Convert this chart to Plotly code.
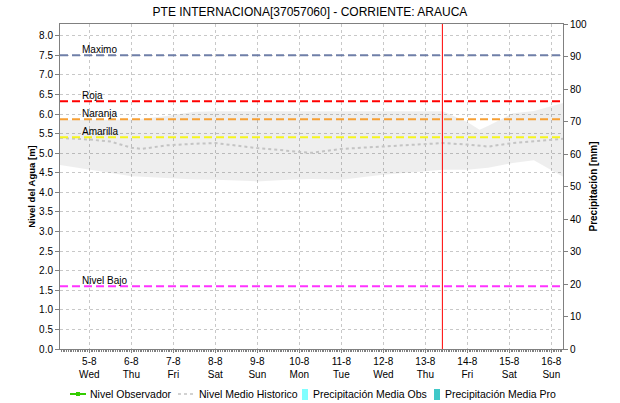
import plotly.graph_objects as go

# ---------------- data ----------------
hist_dates = ["2020-08-04 07:15", "2020-08-05 00:00", "2020-08-05 12:00", "2020-08-06 00:00",
              "2020-08-06 06:00", "2020-08-06 20:00", "2020-08-07 12:00", "2020-08-08 00:00",
              "2020-08-09 00:00", "2020-08-09 18:00", "2020-08-10 07:00", "2020-08-11 00:00",
              "2020-08-12 00:00", "2020-08-13 05:00", "2020-08-13 10:00", "2020-08-14 00:00",
              "2020-08-14 07:00", "2020-08-14 12:00", "2020-08-15 02:00", "2020-08-15 14:00",
              "2020-08-16 06:40"]
hist_mean = [5.39, 5.35, 5.30, 5.14, 5.11, 5.20, 5.24, 5.26, 5.13, 5.05, 5.01, 5.11,
             5.17, 5.26, 5.26, 5.22, 5.18, 5.17, 5.26, 5.30, 5.37]
hist_min = [4.70, 4.58, 4.50, 4.41, 4.40, 4.36, 4.33, 4.32, 4.28, 4.32, 4.34, 4.32,
            4.45, 4.56, 4.58, 4.58, 4.60, 4.63, 4.75, 4.82, 4.40]
hist_max = [5.85, 5.85, 5.85, 5.86, 5.88, 5.95, 6.06, 6.07, 6.07, 6.07, 6.07, 6.07,
            6.07, 6.07, 6.07, 5.80, 5.60, 5.70, 6.02, 6.08, 6.28]

# observed series carry no values in the reference (legend entries only)
obs_dates = ["2020-08-13 09:45"]
obs_level = [None]
precip_obs = [None]
precip_pro = [None]

level_names = ["Maximo", "Roja", "Naranja", "Amarilla", "Nivel Bajo"]
level_values = [7.5, 6.33, 5.87, 5.41, 1.6]
level_colors = ["#6f7fa8", "#ff0000", "#f7a035", "#f5f51e", "#ff33ff"]

now_marker = "2020-08-13 09:45"

tick_dates = ["2020-08-%02d" % d for d in range(5, 17)]
tick_text = ["5-8<br>Wed", "6-8<br>Thu", "7-8<br>Fri", "8-8<br>Sat", "9-8<br>Sun",
             "10-8<br>Mon", "11-8<br>Tue", "12-8<br>Wed", "13-8<br>Thu", "14-8<br>Fri",
             "15-8<br>Sat", "16-8<br>Sun"]

x_range = ["2020-08-04 07:15", "2020-08-16 06:40"]

legend_names = ["Nivel Observador", "Nivel Medio Historico",
                "Precipitación Media Obs", "Precipitación Media Pro"]
c_obs, c_mean, c_pobs, c_ppro = "#33cc00", "#c4c4c4", "#80ffff", "#40c8c8"

# ---------------- figure ----------------
W, H = 620, 403
ML, MR, MT, MB = 60, 57, 24, 54
PW, PH = W - ML - MR, H - MT - MB


def px(x):  # pixel -> paper x
    return (x - ML) / PW


def py(y):  # pixel -> paper y
    return (H - MB - y) / PH


fig = go.Figure()

fig.add_trace(go.Scatter(x=hist_dates, y=hist_min, mode="lines", line=dict(width=0),
                         showlegend=False, hoverinfo="skip"))
fig.add_trace(go.Scatter(x=hist_dates, y=hist_max, mode="lines", line=dict(width=0),
                         fill="tonexty", fillcolor="rgba(0,0,0,0.065)",
                         showlegend=False, hoverinfo="skip"))

fig.add_trace(go.Scatter(x=obs_dates, y=obs_level, mode="lines+markers", name=legend_names[0],
                         line=dict(color=c_obs, width=2), showlegend=False,
                         marker=dict(symbol="square", size=4, color=c_obs)))
fig.add_trace(go.Scatter(x=hist_dates, y=hist_mean, mode="lines", name=legend_names[1],
                         line=dict(color=c_mean, width=2, dash="dot"), showlegend=False))
fig.add_trace(go.Bar(x=obs_dates, y=precip_obs, name=legend_names[2], showlegend=False,
                     marker=dict(color=c_pobs), yaxis="y2"))
fig.add_trace(go.Bar(x=obs_dates, y=precip_pro, name=legend_names[3], showlegend=False,
                     marker=dict(color=c_ppro), yaxis="y2"))

for name, val, col in zip(level_names, level_values, level_colors):
    fig.add_shape(type="line", xref="paper", x0=0, x1=1, yref="y", y0=val, y1=val,
                  line=dict(color=col, width=2, dash="8px,4px"), layer="above")
    fig.add_annotation(xref="paper", x=0.04, yref="y", y=val, text=name, showarrow=False,
                       xanchor="left", yanchor="bottom", yshift=-2,
                       font=dict(size=10, color="#000000"))

fig.add_shape(type="line", xref="x", x0=now_marker, x1=now_marker, yref="paper", y0=0, y1=1,
              line=dict(color="#ff0000", width=1), layer="above")

# ---- legend row (drawn manually to match the compact layout) ----
ly = py(394)
fig.add_shape(type="line", xref="paper", yref="paper", x0=px(70), x1=px(86), y0=ly, y1=ly,
              line=dict(color=c_obs, width=2))
fig.add_shape(type="rect", xref="paper", yref="paper", x0=px(76), x1=px(80), y0=py(396),
              y1=py(392), line=dict(width=0), fillcolor=c_obs)
fig.add_shape(type="line", xref="paper", yref="paper", x0=px(178), x1=px(194), y0=ly, y1=ly,
              line=dict(color=c_mean, width=1.5, dash="3px,3px"))
fig.add_shape(type="rect", xref="paper", yref="paper", x0=px(302), x1=px(308), y0=py(400),
              y1=py(389), line=dict(width=0), fillcolor=c_pobs)
fig.add_shape(type="rect", xref="paper", yref="paper", x0=px(434), x1=px(440), y0=py(400),
              y1=py(389), line=dict(width=0), fillcolor=c_ppro)
for name, xs in zip(legend_names, [88, 197, 311, 443]):
    fig.add_annotation(xref="paper", yref="paper", x=px(xs), y=ly, text=name, showarrow=False,
                       xanchor="left", yanchor="middle", font=dict(size=10.5, color="#000000"))

axis_font = dict(family="Liberation Sans, Arial, sans-serif", size=10, color="#000000")

fig.update_layout(
    width=W, height=H,
    margin=dict(l=ML, r=MR, t=MT, b=MB, autoexpand=False),
    paper_bgcolor="#ffffff", plot_bgcolor="#ffffff",
    font=dict(family="Liberation Sans, Arial, sans-serif", size=10, color="#000000"),
    title=dict(text="PTE INTERNACIONA[37057060] - CORRIENTE: ARAUCA", x=0.5, xanchor="center",
               y=0.97, yanchor="middle", font=dict(size=12, color="#000000")),
    showlegend=False,
    barmode="overlay",
    xaxis=dict(type="date", range=x_range, tickmode="array", tickvals=tick_dates,
               ticktext=tick_text, showgrid=True, gridcolor="#c8c8c8", griddash="dot",
               gridwidth=1, showline=True, linecolor="#808080", mirror=True,
               ticks="outside", ticklen=3, tickcolor="#808080", tickfont=axis_font,
               zeroline=False, automargin=False,
               minor=dict(dtick=3600000, ticks="outside", ticklen=2, tickcolor="#808080",
                          showgrid=False)),
    yaxis=dict(range=[0, 8.3], tickmode="linear", tick0=0, dtick=0.5, tickformat=".1f",
               showgrid=True, gridcolor="#c8c8c8", griddash="dot", gridwidth=1,
               showline=True, linecolor="#808080", ticks="outside", ticklen=4,
               tickcolor="#808080", tickfont=axis_font, zeroline=False, automargin=False,
               title=dict(text="<b>Nivel del Agua [m]</b>", font=dict(size=9.5), standoff=1)),
    yaxis2=dict(range=[0, 100], tickmode="linear", tick0=0, dtick=10, overlaying="y",
                side="right", showgrid=False, showline=True, linecolor="#808080",
                ticks="outside", ticklen=4, tickcolor="#808080", tickfont=axis_font,
                zeroline=False, automargin=False,
                title=dict(text="<b>Precipitación [mm]</b>", font=dict(size=10), standoff=3)),
)

fig.write_html("out.html", config={"displayModeBar": False},
               post_script="document.body.style.margin='0';")
